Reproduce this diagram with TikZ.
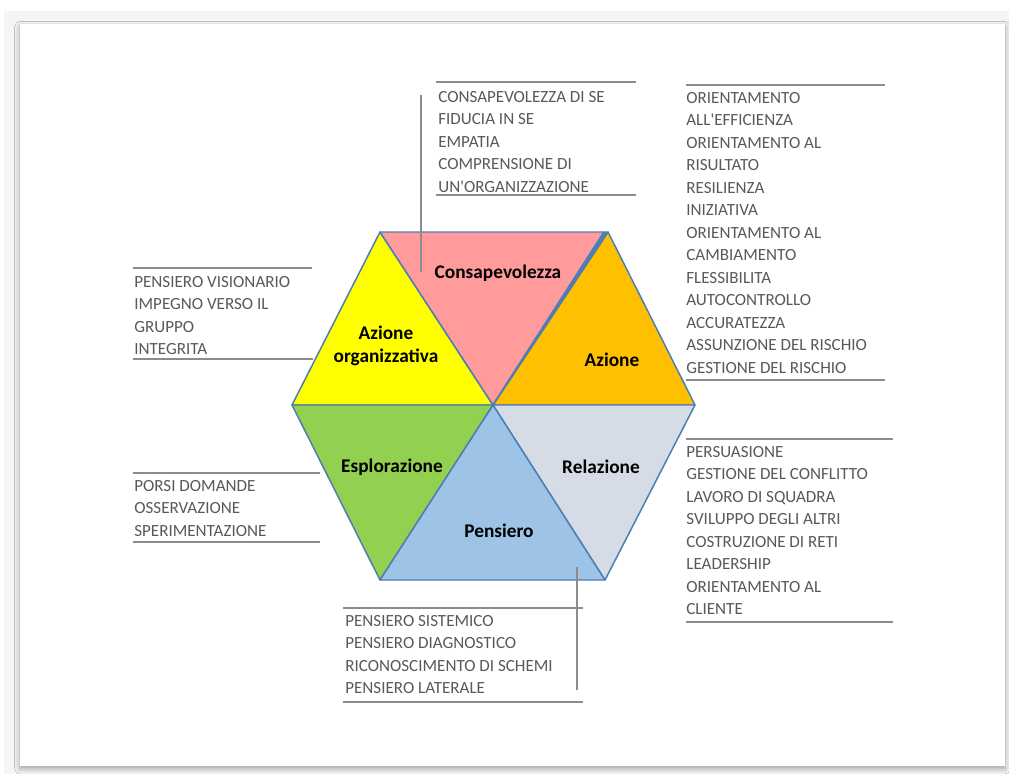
\documentclass[tikz,border=0pt]{standalone}
\usepackage{fontspec}
\setmainfont{Carlito}
\usetikzlibrary{positioning,shadows.blur}

\definecolor{rosa}{HTML}{FF9B9B}
\definecolor{giallo}{HTML}{FFFF00}
\definecolor{arancio}{HTML}{FFC000}
\definecolor{verde}{HTML}{92D050}
\definecolor{azzurro}{HTML}{9DC3E6}
\definecolor{grigioazz}{HTML}{D6DCE5}
\definecolor{bordo}{HTML}{4F7DB5}
\definecolor{testo}{HTML}{595959}
\definecolor{riga}{HTML}{8C8C8C}

\newcommand{\apos}{\textquotesingle}

\begin{document}
\begin{tikzpicture}[
  x=0.02cm, y=-0.02cm,
  spicchio/.style={draw=bordo, line width=0.85pt, line join=round},
  etichetta/.style={font=\fontsize{11}{13}\selectfont\bfseries, align=center, text=black},
  voci/.style={font=\fontsize{9.7}{12.8}\selectfont, align=left, text=testo, inner sep=0pt, anchor=north west},
  riga/.style={draw=riga, line width=0.9pt}
]
\useasboundingbox (0,0) rectangle (1009,774);

% Sfondo e cartoncino
\fill[black!4] (4,11) rectangle (1009,774);
\fill[white, blur shadow={shadow xshift=0pt, shadow yshift=-1.5pt, shadow blur radius=3pt, shadow opacity=35}]
  (20,24) rectangle (1005,766);

% Vertici dell'esagono
\coordinate (O) at (493,405);
\coordinate (nw) at (380,232);
\coordinate (ne) at (604,232);
\coordinate (ne2) at (608,232);
\coordinate (E) at (695,405);
\coordinate (W) at (292,405);
\coordinate (sw) at (380,580);
\coordinate (se) at (605,580);

% Spicchi
\filldraw[spicchio, fill=giallo] (nw) -- (W) -- (O) -- cycle;
\filldraw[spicchio, fill=rosa] (nw) -- (ne) -- (O) -- cycle;
\filldraw[spicchio, fill=arancio] (ne2) -- (E) -- (O) -- cycle;
\filldraw[spicchio, fill=bordo] (ne) -- (ne2) -- (O) -- cycle;
\filldraw[spicchio, fill=verde] (W) -- (sw) -- (O) -- cycle;
\filldraw[spicchio, fill=grigioazz] (E) -- (se) -- (O) -- cycle;
\filldraw[spicchio, fill=azzurro] (O) -- (sw) -- (se) -- cycle;

% Etichette degli spicchi
\node[etichetta] (consap) at (498,273) {Consapevolezza};
\node[etichetta] (azorg) at (386,346) {Azione\\organizzativa};
\node[etichetta] (azione) at (612,360) {Azione};
\node[etichetta] (esplor) at (392,467) {Esplorazione};
\node[etichetta] (relaz) at (601,467) {Relazione};
\node[etichetta] (pensiero) at (499,531) {Pensiero};

% Elenchi
\node[voci] (consap-txt) at (438,91) {CONSAPEVOLEZZA DI SE\\FIDUCIA IN SE\\EMPATIA\\COMPRENSIONE DI\\UN\apos ORGANIZZAZIONE};
\node[voci] (azione-txt) at (686,92) {ORIENTAMENTO\\ALL\apos EFFICIENZA\\ORIENTAMENTO AL\\RISULTATO\\RESILIENZA\\INIZIATIVA\\ORIENTAMENTO AL\\CAMBIAMENTO\\FLESSIBILITA\\AUTOCONTROLLO\\ACCURATEZZA\\ASSUNZIONE DEL RISCHIO\\GESTIONE DEL RISCHIO};
\node[voci] (azorg-txt) at (134,276) {PENSIERO VISIONARIO\\IMPEGNO VERSO IL\\GRUPPO\\INTEGRITA};
\node[voci] (esplor-txt) at (134,480) {PORSI DOMANDE\\OSSERVAZIONE\\SPERIMENTAZIONE};
\node[voci] (relaz-txt) at (686,446) {PERSUASIONE\\GESTIONE DEL CONFLITTO\\LAVORO DI SQUADRA\\SVILUPPO DEGLI ALTRI\\COSTRUZIONE DI RETI\\LEADERSHIP\\ORIENTAMENTO AL\\CLIENTE};
\node[voci] (pensiero-txt) at (345,615) {PENSIERO SISTEMICO\\PENSIERO DIAGNOSTICO\\RICONOSCIMENTO DI SCHEMI\\PENSIERO LATERALE};

% Righe sopra e sotto gli elenchi
\draw[riga] (436,82) -- (636,82) (436,195) -- (636,195);
\draw[riga] (686,85) -- (885,85) (686,380) -- (885,380);
\draw[riga] (133,268) -- (312,268);
\draw[riga] (133,542) -- (320,542);
\draw[riga] (686,439) -- (893,439) (686,622) -- (893,622);
\draw[riga] (343,608) -- (583,608) (343,702) -- (583,702);

% Collegamenti agli spicchi
\coordinate (consap-in) at (421,272);
\coordinate (azorg-in) at (313,359);
\coordinate (esplor-in) at (320,473);
\coordinate (pensiero-in) at (577,567);
\draw[riga] (421,95) -- (consap-in);
\draw[riga] (133,359) -- (azorg-in);
\draw[riga] (133,473) -- (esplor-in);
\draw[riga] (577,690) -- (pensiero-in);

\end{tikzpicture}
\end{document}
